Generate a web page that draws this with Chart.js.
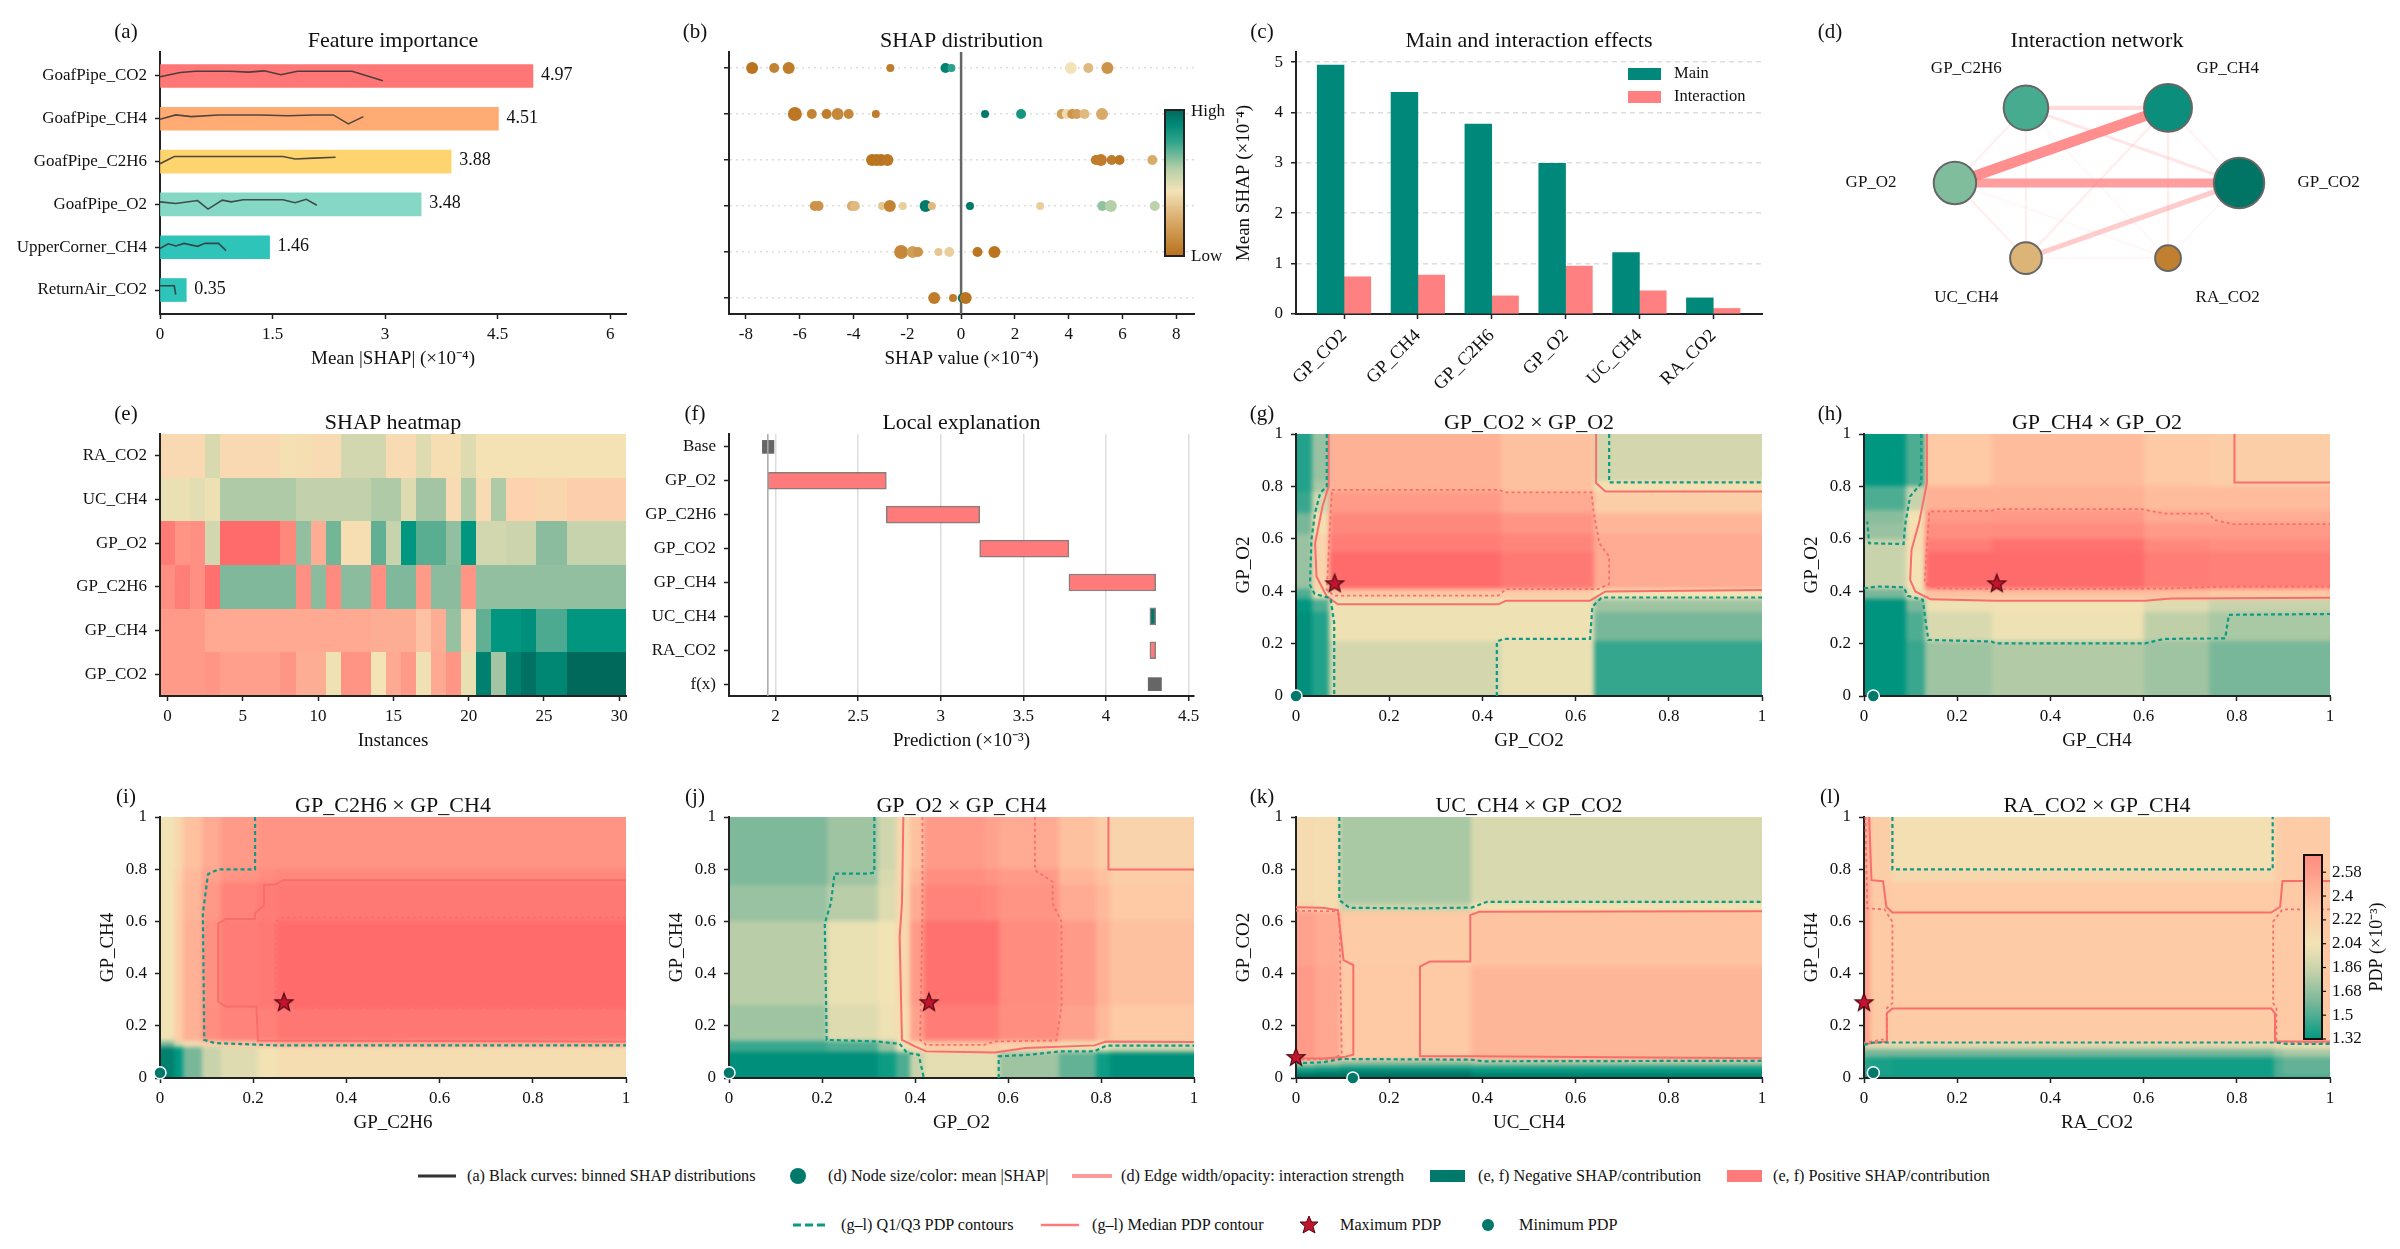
<!DOCTYPE html>
<html>
<head>
<meta charset="utf-8">
<script src="https://cdn.jsdelivr.net/npm/chart.js@4"></script>
<style>
  html, body { margin: 0; background: #fff; }
  #page { position: relative; width: 2400px; height: 1249px; overflow: hidden; }
  canvas { position: absolute; }
  .lg { position: absolute; font: 16.2px 'Liberation Serif'; color: #111; white-space: nowrap; transform: translateY(-50%); }
  svg { position: absolute; overflow: visible; }
</style>
</head>
<body>
<div id="page">
  <svg style="left:0;top:0" width="2400" height="1249">
    <line x1="418" y1="1176" x2="456" y2="1176" stroke="#333" stroke-width="3"/>
    <circle cx="798" cy="1176" r="8" fill="#00796b"/>
    <line x1="1072" y1="1176" x2="1112" y2="1176" stroke="#ff9a9a" stroke-width="4"/>
    <rect x="1430" y="1170" width="35" height="12" fill="#00796b"/>
    <rect x="1727" y="1170" width="35" height="12" fill="#ff7b7b"/>
    <line x1="793" y1="1225" x2="828" y2="1225" stroke="#0f9a85" stroke-width="3" stroke-dasharray="8 4"/>
    <line x1="1041" y1="1225" x2="1079" y2="1225" stroke="#ff7b7b" stroke-width="2.5"/>
    <polygon points="1309,1216 1311.5,1222 1318,1222 1313,1226.5 1315,1233 1309,1229.5 1303,1233 1305,1226.5 1300,1222 1306.5,1222" fill="#c3142d" stroke="#4a0a14"/>
    <circle cx="1488" cy="1225" r="6" fill="#00796b"/>
  </svg>
  <span class="lg" style="left:467px;top:1176px">(a) Black curves: binned SHAP distributions</span>
  <span class="lg" style="left:828px;top:1176px">(d) Node size/color: mean |SHAP|</span>
  <span class="lg" style="left:1121px;top:1176px">(d) Edge width/opacity: interaction strength</span>
  <span class="lg" style="left:1478px;top:1176px">(e, f) Negative SHAP/contribution</span>
  <span class="lg" style="left:1773px;top:1176px">(e, f) Positive SHAP/contribution</span>
  <span class="lg" style="left:841px;top:1225px">(g–l) Q1/Q3 PDP contours</span>
  <span class="lg" style="left:1092px;top:1225px">(g–l) Median PDP contour</span>
  <span class="lg" style="left:1340px;top:1225px">Maximum PDP</span>
  <span class="lg" style="left:1519px;top:1225px">Minimum PDP</span>
</div>
<script>
// (a) importance
const aNames = ['GoafPipe_CO2', 'GoafPipe_CH4', 'GoafPipe_C2H6', 'GoafPipe_O2', 'UpperCorner_CH4', 'ReturnAir_CO2']
const aValues = [4.97, 4.51, 3.88, 3.48, 1.46, 0.35]
const aColors = ['#ff7676', '#ffab73', '#fed46e', '#86d8c6', '#2ec4b9', '#2ec4b9']
// black curves, [x, offset above the bar centre in rows]
const aCurves = [
  [[0,-.02],[.27,.08],[.47,.11],[.93,.11],[1.18,.09],[1.39,.12],[1.61,.03],[1.83,.11],[2.56,.11],[2.97,-.11]],
  [[0,-.01],[.21,.09],[.42,.05],[.78,.09],[1.34,.09],[1.7,.07],[2.05,.09],[2.31,.09],[2.51,-.12],[2.71,.05]],
  [[0,-.05],[.19,.12],[1.64,.12],[1.8,.06],[2.05,.08],[2.34,.1]],
  [[0,.06],[.21,.02],[.5,.09],[.64,-.11],[.83,.1],[.95,.06],[1.11,.11],[1.64,.11],[1.8,.04],[1.95,.12],[2.09,-.02]],
  [[0,-.03],[.11,.08],[.21,.03],[.32,.09],[.5,.02],[.6,.09],[.78,.09],[.88,-.08]],
  [[0,.1],[.19,.1],[.21,-.11]]
]

// (b) beeswarm, one list per row
const bX = [
  [-7.77,-6.95,-6.41,-2.63,-.58,-.36,4.08,4.73,5.44],
  [-6.18,-5.55,-5,-4.59,-4.18,-3.17,.89,2.23,3.74,3.93,4.13,4.3,4.59,5.24],
  [-3.31,-3.14,-2.97,-2.74,5.01,5.2,5.6,5.89,7.11],
  [-5.44,-5.3,-4.06,-3.95,-2.94,-2.65,-2.17,-1.32,-1.09,.33,2.94,5.25,5.57,7.2],
  [-2.23,-1.8,-1.6,-.84,-.44,.61,1.24],
  [-1,-.3,.06,.17]
]
const bFeature = [
  [.02,.08,.05,.05,.92,.8,.45,.3,.15],
  [.03,.08,.06,.1,.1,.05,.95,.85,.2,.42,.15,.2,.3,.25],
  [.02,.02,.02,.03,.05,.05,.05,.03,.25],
  [.15,.15,.25,.3,.35,.08,.38,.95,.3,.95,.38,.65,.6,.58],
  [.1,.2,.15,.35,.38,.02,.02],
  [.05,.05,.95,.02]
]
const bCount = [
  [3,2,3,1,2,1,3,2,3],
  [4,2,2,3,2,1,1,2,2,2,2,2,2,3],
  [3,3,3,3,2,3,2,2,2],
  [2,2,2,2,1,3,1,3,1,1,1,2,3,2],
  [4,3,2,1,2,2,3],
  [3,1,2,3]
]

// (c) main and interaction
const cNames = ['GP_CO2', 'GP_CH4', 'GP_C2H6', 'GP_O2', 'UC_CH4', 'RA_CO2']
const cMain = [4.94, 4.4, 3.77, 2.99, 1.22, 0.32]
const cInter = [0.74, 0.77, 0.36, 0.95, 0.46, 0.11]

// (d) network, nodes go round a hexagon in this order
const dNames = ['GP_CO2', 'GP_CH4', 'GP_C2H6', 'GP_O2', 'UC_CH4', 'RA_CO2']
const dImportance = [4.97, 4.51, 3.88, 3.48, 1.46, 0.35]
const dEdges = [
  [3,1,1], [3,0,.85], [4,0,.42], [2,1,.28], [2,0,.18], [3,2,.08], [3,4,.08], [3,5,.02],
  [1,4,.1], [1,5,.1], [1,0,.06], [2,4,.08], [4,5,.03], [2,5,.02], [0,5,.02]
]

// (e) heatmap rows, top to bottom
const eNames = ['RA_CO2', 'UC_CH4', 'GP_O2', 'GP_C2H6', 'GP_CH4', 'GP_CO2']
const eRA = [.12,.12,.12,-.12,.12,.12,.12,.12,.04,.06,.1,.1,-.15,-.15,-.15,.1,.1,-.1,.08,.06,-.1,.03,.03,.03,.03,.03,.03,.03,.03,.03,.03]
const eUC = [-.04,-.04,-.08,-.03,-.3,-.3,-.3,-.3,-.3,-.22,-.22,-.22,-.22,-.22,-.3,-.3,-.1,-.35,-.35,.1,-.3,.1,-.3,.2,.2,.16,.16,.23,.23,.23,.23]
const eO2 = [.85,.62,.65,-.15,1,1,1,1,.72,-.42,.42,-.55,.08,.08,-.62,-.2,-1,-.65,-.65,-.42,-1,-.15,-.15,-.18,-.18,-.45,-.45,-.2,-.2,-.2,-.2]
const eC2H6 = [.65,.82,.65,.95,-.5,-.5,-.5,-.5,-.5,.65,-.45,.7,-.45,-.45,.65,-.5,-.5,.55,-.45,-.45,.6,-.42,-.42,-.42,-.42,-.42,-.42,-.42,-.42,-.42,-.42]
const eCH4 = [.55,.55,.55,.45,.45,.45,.45,.45,.45,.45,.45,.45,.45,.45,.42,.42,.42,.3,.42,-.4,.2,-.62,-1,-1,-1.05,-.7,-.7,-1,-1,-1,-1]
const eCO2 = [.55,.55,.55,.6,.5,.5,.5,.5,.6,.42,.42,-.02,.62,.62,0,.45,.55,-.02,.45,.6,-.05,-1.15,-.35,-1.15,-1.25,-1.1,-1.1,-1.3,-1.3,-1.3,-1.3]
const eEdgesX = [-.5,.5,1.5,2.5,3.5,4.5,5.5,6.5,7.5,8.5,9.5,10.5,11.5,12.5,13.5,14.5,15.5,16.5,17.5,18.5,19.5,20.5,21.5,22.5,23.5,24.5,25.5,26.5,27.5,28.5,29.5,30.5]
const eEdgesY = [-.5,.5,1.5,2.5,3.5,4.5,5.5]

// (f) waterfall
const fNames = ['Base', 'GP_O2', 'GP_C2H6', 'GP_CO2', 'GP_CH4', 'UC_CH4', 'RA_CO2', 'f(x)']
const fSpans = [null, [1.953,2.67], [2.67,3.235], [3.235,3.775], [3.775,4.3], [4.265,4.3], [4.265,4.3], null]
const fSigns = [0, 1, 1, 1, 1, -1, 1, 0]
const fEnds = [[1.92,1.99], null, null, null, null, null, null, [4.255,4.335]]
const fBase = 1.953

// (g) - (l) PDP grids: cell edges, values in 1e-3 with rows going bottom to top, contours as [x, y]
const gX = [0,.035,.07,.44,.64,1]
const gY = [0,.21,.32,.37,.41,.55,.62,.7,.78,.82,1]
const gZ = [
  [1.25,1.4,1.9,2.0,1.44],
  [1.25,1.4,2.02,2.02,1.6],
  [1.3,1.5,2.02,2.02,1.72],
  [1.5,2.0,2.3,2.25,2.04],
  [1.7,2.2,3.0,2.88,2.5],
  [1.7,2.2,2.85,2.78,2.5],
  [1.6,2.1,2.75,2.65,2.42],
  [1.45,1.9,2.6,2.5,2.25],
  [1.4,1.75,2.45,2.35,2.08],
  [1.4,1.7,2.45,2.35,1.9]
]
const gQ1 = [
  [[.066,1],[.066,.8],[.052,.775],[.041,.7],[.033,.596],[.03,.424],[.04,.39],[.074,.373],[.082,.278],[.082,0]],
  [[.431,0],[.431,.208],[.446,.218],[.631,.218],[.636,.341],[.656,.376],[1,.376]],
  [[.672,1],[.672,.815],[1,.815]]
]
const gMed = [
  [[.07,1],[.07,.8],[.057,.724],[.041,.583],[.044,.456],[.066,.38],[.09,.35],[.434,.35],[.451,.364],[.631,.364],[.664,.399],[1,.405]],
  [[.644,1],[.644,.813],[.664,.781],[1,.781]]
]
const gQ3 = [
  [[.077,.787],[.434,.787],[.451,.777],[.634,.777],[.639,.698],[.651,.583],[.672,.532],[.672,.427],[.648,.408],[.451,.408],[.434,.383],[.082,.383],[.066,.405],[.074,.685],[.077,.787]]
]
const gMax = [.083, .43]
const gMin = [0, 0]

const hX = [0,.09,.13,.275,.6,.74,1]
const hY = [0,.21,.32,.37,.41,.55,.6,.66,.71,.8,1]
const hZ = [
  [1.28,1.45,1.72,1.78,1.72,1.6],
  [1.28,1.5,1.92,2.02,1.82,1.75],
  [1.28,1.6,2.02,2.04,1.95,1.85],
  [1.6,2.0,2.35,2.35,2.35,2.3],
  [1.85,2.05,3.0,3.0,2.85,2.82],
  [1.85,2.1,2.85,2.95,2.75,2.7],
  [1.7,2.1,2.7,2.72,2.6,2.6],
  [1.65,2.05,2.6,2.62,2.5,2.48],
  [1.5,1.85,2.45,2.45,2.38,2.38],
  [1.3,1.5,2.3,2.38,2.3,2.25]
]
const hQ1 = [
  [[.123,1],[.123,.813],[.099,.762],[.088,.65],[.085,.58],[.011,.583],[.007,.666]],
  [[0,.411],[.028,.418],[.085,.415],[.094,.382],[.126,.367],[.138,.214],[.274,.208],[.282,.201],[.603,.201],[.644,.218],[.775,.22],[.783,.31],[1,.313]]
]
const hMed = [
  [[.135,1],[.135,.813],[.118,.66],[.102,.558],[.099,.443],[.11,.399],[.143,.369],[.282,.364],[.603,.364],[.66,.372],[1,.375]],
  [[.795,1],[.795,.815],[1,.815]]
]
const hQ3 = [
  [[1,.418],[.783,.418],[.644,.41],[.282,.408],[.159,.411],[.13,.431],[.14,.704],[.274,.707],[.282,.713],[.594,.713],[.647,.696],[.742,.696],[.75,.673],[.791,.656],[1,.656]]
]
const hMax = [.285, .43]
const hMin = [.02, 0]

const iX = [0,.03,.05,.09,.13,.21,.25,1]
const iY = [0,.12,.14,.27,.6,.75,.8,1]
const iZ = [
  [1.15,1.3,1.6,1.85,1.95,2.05,2.1],
  [1.6,1.9,2.1,2.2,2.3,2.4,2.45],
  [2.04,2.25,2.45,2.7,2.8,2.82,2.9],
  [2.04,2.25,2.45,2.68,2.85,2.88,3.0],
  [2.04,2.25,2.42,2.62,2.8,2.85,2.88],
  [2.04,2.2,2.4,2.55,2.65,2.72,2.75],
  [2.04,2.15,2.35,2.5,2.6,2.65,2.65]
]
const iQ1 = [
  [[.204,1],[.204,.799],[.125,.799],[.103,.781],[.092,.631],[.095,.146],[.117,.134],[.248,.125],[1,.125]]
]
const iMed = [
  [[1,.758],[.264,.758],[.248,.741],[.223,.739],[.223,.662],[.204,.631],[.204,.609],[.141,.609],[.125,.592],[.125,.293],[.141,.274],[.207,.274],[.21,.144],[1,.14]]
]
const iQ3 = [
  [[1,.615],[.264,.615],[.248,.599],[.248,.268],[1,.268]]
]
const iMax = [.266, .29]
const iMin = [0, .02]

const jX = [0,.21,.32,.36,.39,.42,.55,.58,.71,.79,.82,1]
const jY = [0,.1,.14,.28,.6,.74,.8,1]
const jZ = [
  [1.25,1.25,1.35,1.5,1.85,1.98,1.98,1.72,1.55,1.35,1.25],
  [1.45,1.5,1.7,2.0,2.15,2.3,2.3,2.2,2.1,2.0,1.9],
  [1.72,1.95,2.02,2.1,2.55,2.85,2.85,2.7,2.55,2.4,2.3],
  [1.8,2.0,2.04,2.15,2.6,2.95,2.95,2.72,2.6,2.45,2.35],
  [1.7,1.8,1.95,2.15,2.5,2.8,2.75,2.65,2.5,2.4,2.3],
  [1.62,1.72,1.92,2.15,2.42,2.7,2.65,2.6,2.42,2.35,2.25],
  [1.62,1.72,1.88,2.15,2.35,2.6,2.55,2.5,2.35,2.25,2.2]
]
const jQ1 = [
  [[.3125,1],[.3125,.787],[.3,.783],[.227,.783],[.219,.669],[.206,.592],[.21,.146],[.317,.14],[.367,.131],[.383,.096],[.408,.089],[.419,0]],
  [[.58,0],[.58,.083],[.646,.089],[.712,.102],[.786,.102],[.811,.124],[1,.124]]
]
const jMed = [
  [[.375,1],[.372,.669],[.367,.541],[.372,.146],[.4,.121],[.424,.102],[.572,.098],[.638,.115],[.786,.125],[.811,.14],[1,.138]],
  [[.816,1],[.816,.799],[1,.799]]
]
const jQ3 = [
  [[.416,1],[.416,.643],[.411,.146],[.424,.127],[.548,.127],[.572,.14],[.704,.144],[.715,.274],[.715,.599],[.696,.669],[.696,.752],[.658,.796],[.658,1]]
]
const jMax = [.43, .29]
const jMin = [0, .02]

const kX = [0,.04,.095,.375,.395,1]
const kY = [0,.015,.035,.05,.07,.43,.64,.67,1]
const kZ = [
  [1.0,1.0,1.0,1.1,1.1],
  [1.3,1.25,1.2,1.3,1.3],
  [1.5,1.45,1.4,1.4,1.4],
  [1.9,1.8,1.7,1.8,1.8],
  [2.6,2.52,2.3,2.42,2.42],
  [2.55,2.5,2.28,2.33,2.33],
  [2.2,2.1,1.85,2.05,2.05],
  [2.12,2.1,1.75,1.92,1.92]
]
const kQ1 = [
  [[0,.057],[.057,.06],[.098,.073],[.377,.07],[.402,.064],[1,.066]],
  [[.093,1],[.093,.682],[.115,.652],[.27,.65],[.377,.653],[.41,.675],[1,.675]]
]
const kMed = [
  [[0,.654],[.057,.652],[.09,.643],[.102,.452],[.123,.433],[.123,.089],[.102,.08],[.057,.075],[0,.076]],
  [[1,.639],[.393,.637],[.374,.624],[.374,.446],[.287,.446],[.266,.427],[.266,.083],[.385,.083],[1,.076]]
]
const kQ3 = [
  [[0,.641],[.082,.639],[.093,.624],[.098,.096],[.082,.073],[.008,.07]]
]
const kMax = [0, .08]
const kMin = [.122, 0]

const lX = [0,.012,.06,.88,.9,1]
const lY = [0,.01,.08,.11,.13,.75,.8,1]
const lZ = [
  [1.36,1.36,1.36,1.5,1.5],
  [1.42,1.38,1.36,1.5,1.55],
  [1.6,1.6,1.6,1.7,1.75],
  [1.95,1.95,1.95,2.0,2.0],
  [2.55,2.3,2.27,2.3,2.3],
  [2.5,2.25,2.15,2.25,2.27],
  [2.5,2.25,2.08,2.25,2.27]
]
const lQ1 = [
  [[.061,1],[.061,.799],[.877,.799],[.877,1]],
  [[0,.127],[.02,.136],[.882,.136],[.906,.131],[1,.131]]
]
const lMed = [
  [[.011,1],[.016,.758],[.041,.754],[.048,.656],[.061,.634],[.874,.634],[.893,.656],[.898,.755],[1,.755]],
  [[0,.13],[.049,.14],[.049,.248],[.061,.266],[.874,.266],[.882,.248],[.882,.14],[1,.14]]
]
const lQ3 = [
  [[.003,1],[.007,.65],[.044,.646],[.061,.599],[.061,.287],[.049,.268],[.049,.15],[0,.135]],
  [[1,.646],[.898,.646],[.878,.599],[.878,.287],[.885,.268],[.885,.14],[1,.135]]
]
const lMax = [0, .29]
const lMin = [.02, .02]
const lBarTicks = [1.32, 1.5, 1.68, 1.86, 2.04, 2.22, 2.4, 2.58]

// colour ramps
const pdpStops = [[1,'#00695c'],[1.32,'#009a83'],[1.6,'#78b79a'],[1.85,'#c9d3ab'],[2.04,'#f2e3b5'],[2.3,'#fec9a5'],[2.6,'#ff9a88'],[3,'#ff6b6b']]
const shapStops = [[-1.3,'#00695c'],[-1,'#009680'],[-.5,'#7fb89a'],[-.15,'#d3d7af'],[0,'#f3e3b5'],[.2,'#fcd3ae'],[.5,'#ff9f8c'],[1,'#ff6b6b']]
const featStops = [[0,'#b8701a'],[.25,'#d9ab6a'],[.45,'#f3e3b8'],[.6,'#b5cfa7'],[.78,'#34a58c'],[.9,'#008a78'],[1,'#00695c']]

function ramp(stops, v) {
  if (v <= stops[0][0]) return stops[0][1]
  for (let i = 1; i < stops.length; i++) {
    if (v <= stops[i][0]) {
      const t = (v - stops[i-1][0]) / (stops[i][0] - stops[i-1][0])
      const a = parseInt(stops[i-1][1].slice(1), 16), b = parseInt(stops[i][1].slice(1), 16)
      const mix = s => Math.round(((a >> s) & 255) * (1 - t) + ((b >> s) & 255) * t)
      return `rgb(${mix(16)},${mix(8)},${mix(0)})`
    }
  }
  return stops[stops.length-1][1]
}

Chart.defaults.font.family = "'Liberation Serif'"
Chart.defaults.font.size = 17
Chart.defaults.color = '#111'
Chart.defaults.animation = false
Chart.defaults.plugins.legend.display = false
Chart.defaults.plugins.tooltip.enabled = false

// margins round the axes box inside each canvas
const PL = 150, PT = 50, PR = 70, PB = 80
const page = document.getElementById('page')
const fmt = v => String(+(+v).toFixed(2))

function xAxis(min, max, step, title, more) {
  return Object.assign({
    type: 'linear', min, max, offset: false,
    border: { color: '#222', width: 2 },
    grid: { offset: false, drawOnChartArea: false, tickColor: '#222', tickLength: 5, tickWidth: 1.5 },
    ticks: { stepSize: step, includeBounds: false, autoSkip: false, maxRotation: 0, padding: 5, callback: fmt },
    title: { display: true, text: title, font: { size: 19 }, padding: { top: 0, bottom: 24 } },
    afterFit(s) { s.height = PB }
  }, more)
}

function yAxis(min, max, step, title, labels, more) {
  return Object.assign({
    type: 'linear', min, max, offset: false,
    border: { color: '#222', width: 2 },
    grid: { offset: false, drawOnChartArea: false, tickColor: '#222', tickLength: 5, tickWidth: 1.5 },
    ticks: { stepSize: step, includeBounds: false, autoSkip: false, padding: 8,
      callback: labels ? v => labels[v] : fmt },
    title: { display: !!title, text: title, font: { size: 19 }, padding: { top: 87, bottom: 0 } },
    // one tick per row, whatever the axis limits are
    afterBuildTicks: labels ? s => { s.ticks = labels.map((n, i) => ({ value: i })) } : undefined,
    afterFit(s) { s.width = PL }
  }, more)
}

function tagPlugin(letter) {
  return {
    id: 'tag',
    afterDraw(chart) {
      const c = chart.ctx, a = chart.chartArea
      c.save()
      c.font = "21px 'Liberation Serif'"
      c.fillStyle = '#111'
      c.textAlign = 'center'
      c.textBaseline = 'middle'
      c.fillText(letter, a.left - 34, a.top - 20)
      c.restore()
    }
  }
}

// paints grid cells from the chart's own scales, under the axes
function heatPlugin(edgesX, edgesY, rows, colorOf, blur) {
  return {
    id: 'heat',
    beforeDraw(chart) {
      const a = chart.chartArea, sx = chart.scales.x, sy = chart.scales.y, pad = 10
      const w = Math.ceil(a.width) + pad * 2, h = Math.ceil(a.height) + pad * 2
      const off = document.createElement('canvas')
      off.width = w; off.height = h
      const o = off.getContext('2d')
      const flip = sy.getPixelForValue(edgesY[0]) > sy.getPixelForValue(edgesY[1])
      rows.forEach((row, r) => row.forEach((v, c) => {
        let x0 = Math.round(sx.getPixelForValue(edgesX[c]) - a.left + pad)
        let x1 = Math.round(sx.getPixelForValue(edgesX[c+1]) - a.left + pad)
        let y0 = Math.round(sy.getPixelForValue(edgesY[r]) - a.top + pad)
        let y1 = Math.round(sy.getPixelForValue(edgesY[r+1]) - a.top + pad)
        if (c === 0) x0 = 0
        if (c === row.length - 1) x1 = w
        if (r === 0) y0 = flip ? h : 0
        if (r === rows.length - 1) y1 = flip ? 0 : h
        o.fillStyle = colorOf(v)
        o.fillRect(x0, Math.min(y0, y1), x1 - x0, Math.abs(y1 - y0))
      }))
      const c = chart.ctx
      c.save()
      c.beginPath()
      c.rect(a.left, a.top, a.width, a.height)
      c.clip()
      c.filter = blur ? `blur(${blur}px)` : 'none'
      c.drawImage(off, a.left - pad, a.top - pad)
      c.restore()
    }
  }
}

function panel(left, top, w, h, letter, title, config, extra) {
  const cv = document.createElement('canvas')
  cv.width = w + PL + PR
  cv.height = h + PT + PB
  cv.style.left = (left - PL) + 'px'
  cv.style.top = (top - PT) + 'px'
  page.appendChild(cv)
  const opts = config.options
  opts.responsive = false
  opts.devicePixelRatio = 1
  opts.events = []
  opts.layout = opts.layout || { padding: { top: PT - 22, right: PR, left: 0, bottom: 0 } }
  opts.plugins = Object.assign({
    title: { display: true, text: title, fullSize: false, font: { size: 22, weight: 'normal', lineHeight: 1 }, padding: 0 }
  }, opts.plugins)
  config.plugins = [tagPlugin(letter)].concat(extra || [])
  return new Chart(cv, config)
}

function star() {
  const s = document.createElement('canvas')
  s.width = s.height = 22
  const c = s.getContext('2d')
  c.beginPath()
  for (let i = 0; i < 10; i++) {
    const r = i % 2 ? 4 : 9.5
    const t = -Math.PI / 2 + i * Math.PI / 5
    c.lineTo(11 + r * Math.cos(t), 11.5 + r * Math.sin(t))
  }
  c.closePath()
  c.fillStyle = '#c3142d'
  c.fill()
  c.strokeStyle = '#4a0a14'
  c.lineWidth = 1.2
  c.stroke()
  return s
}
const starImg = star()

// (a)
panel(160, 52, 466, 262, '(a)', 'Feature importance', {
  type: 'bar',
  data: {
    datasets: aCurves.map((curve, r) => ({
      type: 'line', indexAxis: 'x', pointRadius: 0, borderWidth: 1.6, borderColor: 'rgba(50,50,50,.85)', tension: 0, fill: false,
      data: curve.map(p => ({ x: p[0], y: r - p[1] }))
    })).concat([{
      data: aValues.map((v, i) => ({ x: v, y: i })),
      backgroundColor: aColors, barThickness: 23
    }])
  },
  options: {
    indexAxis: 'y',
    scales: {
      x: xAxis(0, 6.21, 1.5, 'Mean |SHAP| (×10⁻⁴)'),
      y: yAxis(-.56, 5.56, 1, '', aNames, { reverse: true })
    }
  }
}, [{
  id: 'barValues',
  afterDatasetsDraw(chart) {
    const c = chart.ctx
    c.save()
    c.font = "18px 'Liberation Serif'"
    c.fillStyle = '#111'
    c.textBaseline = 'middle'
    aValues.forEach((v, i) => c.fillText(v.toFixed(2), chart.scales.x.getPixelForValue(v) + 8, chart.scales.y.getPixelForValue(i) - 1))
    c.restore()
  }
}])

// (b)
const bPoints = [], bFill = [], bRadius = []
bX.forEach((row, r) => row.forEach((v, i) => {
  bPoints.push({ x: v, y: r })
  bFill.push(ramp(featStops, bFeature[r][i]))
  bRadius.push(3 + bCount[r][i])
}))
panel(729, 52, 465, 262, '(b)', 'SHAP distribution', {
  type: 'scatter',
  data: {
    datasets: [
      { data: bPoints, backgroundColor: bFill, pointRadius: bRadius, borderWidth: 0, pointBorderWidth: 0 },
      { data: [{ x: 0, y: -.348 }, { x: 0, y: 5.348 }], showLine: true, pointRadius: 0, borderColor: '#666', borderWidth: 2.5 }
    ]
  },
  options: {
    scales: {
      x: xAxis(-8.63, 8.66, 2, 'SHAP value (×10⁻⁴)'),
      y: yAxis(-.348, 5.348, 1, '', ['', '', '', '', '', ''], {
        reverse: true,
        border: { color: '#222', width: 2, dash: [2, 4] },
        grid: { drawOnChartArea: true, color: '#ddd', lineWidth: 1.5, tickColor: '#222', tickLength: 5, tickWidth: 1.5 }
      })
    }
  }
}, [{
  id: 'featureBar',
  afterDraw(chart) {
    const c = chart.ctx, a = chart.chartArea
    const x = a.right - 29, w = 19, y = a.top + 58, h = 146
    c.save()
    for (let i = 0; i < h; i++) {
      c.fillStyle = ramp(featStops, 1 - i / h)
      c.fillRect(x, y + i, w, 1)
    }
    c.strokeStyle = '#222'
    c.lineWidth = 2
    c.strokeRect(x, y, w, h)
    c.font = "17px 'Liberation Serif'"
    c.fillStyle = '#111'
    c.textBaseline = 'middle'
    c.fillText('High', a.right - 3, y + 2)
    c.fillText('Low', a.right - 3, y + h + 1)
    c.restore()
  }
}])

// (c)
const cSeries = [['Main', '#00897b'], ['Interaction', '#ff8080']]
panel(1296, 52, 466.5, 262, '(c)', 'Main and interaction effects', {
  type: 'bar',
  data: {
    datasets: [
      { label: 'Main', data: cMain.map((v, i) => ({ x: i, y: v })), backgroundColor: '#00897b', barThickness: 26.8 },
      { label: 'Interaction', data: cInter.map((v, i) => ({ x: i, y: v })), backgroundColor: '#ff8080', barThickness: 26.8 }
    ]
  },
  options: {
    scales: {
      x: xAxis(-.65, 5.66, 1, '', {
        ticks: { stepSize: 1, includeBounds: false, autoSkip: false, minRotation: 45, maxRotation: 45, padding: 6, font: { size: 18.5 }, callback: v => cNames[v] },
        title: { display: false }
      }),
      y: yAxis(0, 5.2, 1, 'Mean SHAP (×10⁻⁴)', null, {
        border: { color: '#222', width: 2, dash: [5, 4] },
        grid: { drawOnChartArea: true, color: '#ddd', lineWidth: 1.5, tickColor: '#222', tickLength: 5, tickWidth: 1.5 }
      })
    }
  }
}, [{
  id: 'cLegend',
  afterDraw(chart) {
    const c = chart.ctx, a = chart.chartArea
    c.save()
    c.font = "16.5px 'Liberation Serif'"
    c.textBaseline = 'middle'
    cSeries.forEach((s, i) => {
      const y = a.top + 22 + i * 23
      c.fillStyle = s[1]
      c.fillRect(a.right - 134, y - 6, 33, 12)
      c.fillStyle = '#111'
      c.fillText(s[0], a.right - 88, y)
    })
    c.restore()
  }
}])

// (d)
const dNodes = dNames.map((n, i) => ({
  x: Math.cos(i * Math.PI / 3), y: Math.sin(i * Math.PI / 3)
}))
panel(1864, 52, 466, 262, '(d)', 'Interaction network', {
  type: 'scatter',
  data: {
    datasets: [{
      data: dNodes,
      pointRadius: dImportance.map(v => 12 + 2.65 * v),
      backgroundColor: dImportance.map(v => ramp(featStops, v / 5.15)),
      borderColor: '#666', borderWidth: 2
    }].concat(dEdges.map(e => ({
      data: [dNodes[e[0]], dNodes[e[1]]], showLine: true, pointRadius: 0,
      borderColor: `rgba(255,128,128,${.05 + .84 * e[2]})`, borderWidth: 1.5 + 9 * e[2]
    })))
  },
  options: {
    layout: { padding: { top: PT - 22, right: PR, left: PL, bottom: PB } },
    scales: {
      x: { type: 'linear', display: false, min: -1.64, max: 1.64 },
      y: { type: 'linear', display: false, min: -1.51, max: 1.51 }
    }
  }
}, [{
  id: 'nodeLabels',
  afterDraw(chart) {
    const c = chart.ctx
    c.save()
    c.font = "17px 'Liberation Serif'"
    c.fillStyle = '#111'
    c.textAlign = 'center'
    c.textBaseline = 'middle'
    dNames.forEach((n, i) => {
      const p = dNodes[i]
      const lx = Math.abs(p.y) < .01 ? p.x * (p.x > 0 ? 1.63 : 1.59) : p.x * 1.84
      c.fillText(n, chart.scales.x.getPixelForValue(lx), chart.scales.y.getPixelForValue(p.y * 1.52))
    })
    c.restore()
  }
}])

// (e)
const eRows = [eRA, eUC, eO2, eC2H6, eCH4, eCO2]
panel(160, 434, 466, 262, '(e)', 'SHAP heatmap', {
  type: 'scatter',
  data: { datasets: [{ data: [] }] },
  options: {
    scales: {
      x: xAxis(-.5, 30.45, 5, 'Instances'),
      y: yAxis(-.5, 5.5, 1, '', eNames, { reverse: true })
    }
  }
}, [heatPlugin(eEdgesX, eEdgesY, eRows, v => ramp(shapStops, v), 0)])

// (f)
panel(729, 434, 465, 262, '(f)', 'Local explanation', {
  type: 'bar',
  data: {
    datasets: [
      { type: 'line', indexAxis: 'x', data: [{ x: fBase, y: -.38 }, { x: fBase, y: 7.35 }], pointRadius: 0, borderColor: '#aaa', borderWidth: 1.5 },
      {
        data: fSpans.map((s, i) => s && ({ x: s, y: i })).filter(Boolean),
        backgroundColor: fSigns.filter((s, i) => fSpans[i]).map(s => s > 0 ? '#ff7b7b' : '#00796b'),
        borderColor: 'rgba(90,70,70,.7)', borderWidth: 1.5, borderSkipped: false, barThickness: 17, grouped: false
      },
      {
        data: fEnds.map((s, i) => s && ({ x: s, y: i })).filter(Boolean),
        backgroundColor: '#666', barThickness: 13, grouped: false
      }
    ]
  },
  options: {
    indexAxis: 'y',
    scales: {
      x: xAxis(1.718, 4.532, .5, 'Prediction (×10⁻³)', {
        grid: { drawOnChartArea: true, color: '#ddd', lineWidth: 1.5, tickColor: '#222', tickLength: 5, tickWidth: 1.5 }
      }),
      y: yAxis(-.38, 7.35, 1, '', fNames, { reverse: true })
    }
  }
})

// (g) - (l)
function pdpPanel(left, top, h, letter, title, xName, yName, grid, extra) {
  const contour = (segs, color, dash, width) => segs.map(s => ({
    data: s.map(p => ({ x: p[0], y: p[1] })), showLine: true, pointRadius: 0,
    borderColor: color, borderDash: dash, borderWidth: width, tension: 0
  }))
  const w = letter === '(j)' ? 465 : 466
  panel(left, top, w, h, letter, title, {
    type: 'scatter',
    data: {
      datasets: [
        { data: [{ x: grid.max[0], y: grid.max[1] }], pointStyle: starImg, pointRadius: 11, clip: false },
        { data: [{ x: grid.min[0], y: grid.min[1] }], pointRadius: 6, backgroundColor: '#00796b', borderColor: '#fff', borderWidth: 1.5, clip: false }
      ]
        .concat(contour(grid.q1, '#0f9a85', [4, 3], 2.2))
        .concat(contour(grid.q3, '#f96e6c', [3, 3], 1.8))
        .concat(contour(grid.med, '#f96e6c', [], 2))
    },
    options: {
      scales: {
        x: xAxis(0, 1, .2, xName),
        y: yAxis(0, 1, .2, yName)
      }
    }
  }, [heatPlugin(grid.x, grid.y, grid.z, v => ramp(pdpStops, v), 2)].concat(extra || []))
}

pdpPanel(1296, 434, 262, '(g)', 'GP_CO2 × GP_O2', 'GP_CO2', 'GP_O2', { x: gX, y: gY, z: gZ, q1: gQ1, med: gMed, q3: gQ3, max: gMax, min: gMin })
pdpPanel(1864, 434, 262, '(h)', 'GP_CH4 × GP_O2', 'GP_CH4', 'GP_O2', { x: hX, y: hY, z: hZ, q1: hQ1, med: hMed, q3: hQ3, max: hMax, min: hMin })
pdpPanel(160, 817, 261, '(i)', 'GP_C2H6 × GP_CH4', 'GP_C2H6', 'GP_CH4', { x: iX, y: iY, z: iZ, q1: iQ1, med: iMed, q3: iQ3, max: iMax, min: iMin })
pdpPanel(729, 817, 261, '(j)', 'GP_O2 × GP_CH4', 'GP_O2', 'GP_CH4', { x: jX, y: jY, z: jZ, q1: jQ1, med: jMed, q3: jQ3, max: jMax, min: jMin })
pdpPanel(1296, 817, 261, '(k)', 'UC_CH4 × GP_CO2', 'UC_CH4', 'GP_CO2', { x: kX, y: kY, z: kZ, q1: kQ1, med: kMed, q3: kQ3, max: kMax, min: kMin })
pdpPanel(1864, 817, 261, '(l)', 'RA_CO2 × GP_CH4', 'RA_CO2', 'GP_CH4', { x: lX, y: lY, z: lZ, q1: lQ1, med: lMed, q3: lQ3, max: lMax, min: lMin }, [{
  id: 'pdpBar',
  afterDraw(chart) {
    const c = chart.ctx, a = chart.chartArea
    const x = a.right - 26, w = 18, y = a.top + 38, h = 184, top = 2.71, bottom = 1.32
    const yOf = v => y + (top - v) / (top - bottom) * h
    c.save()
    for (let i = 0; i < h; i++) {
      c.fillStyle = ramp(pdpStops, top - i / h * (top - bottom))
      c.fillRect(x, y + i, w, 1)
    }
    c.strokeStyle = '#111'
    c.lineWidth = 2
    c.strokeRect(x, y, w, h)
    c.font = "17px 'Liberation Serif'"
    c.fillStyle = '#111'
    c.textBaseline = 'middle'
    c.lineWidth = 1.2
    lBarTicks.forEach(v => {
      c.beginPath()
      c.moveTo(x + w, yOf(v))
      c.lineTo(x + w + 4, yOf(v))
      c.stroke()
      c.fillText(String(v), a.right + 2, yOf(v))
    })
    c.translate(a.right + 47, y + h / 2)
    c.rotate(-Math.PI / 2)
    c.textAlign = 'center'
    c.font = "18px 'Liberation Serif'"
    c.fillText('PDP (×10⁻³)', 0, 0)
    c.restore()
  }
}])
</script>
</body>
</html>
